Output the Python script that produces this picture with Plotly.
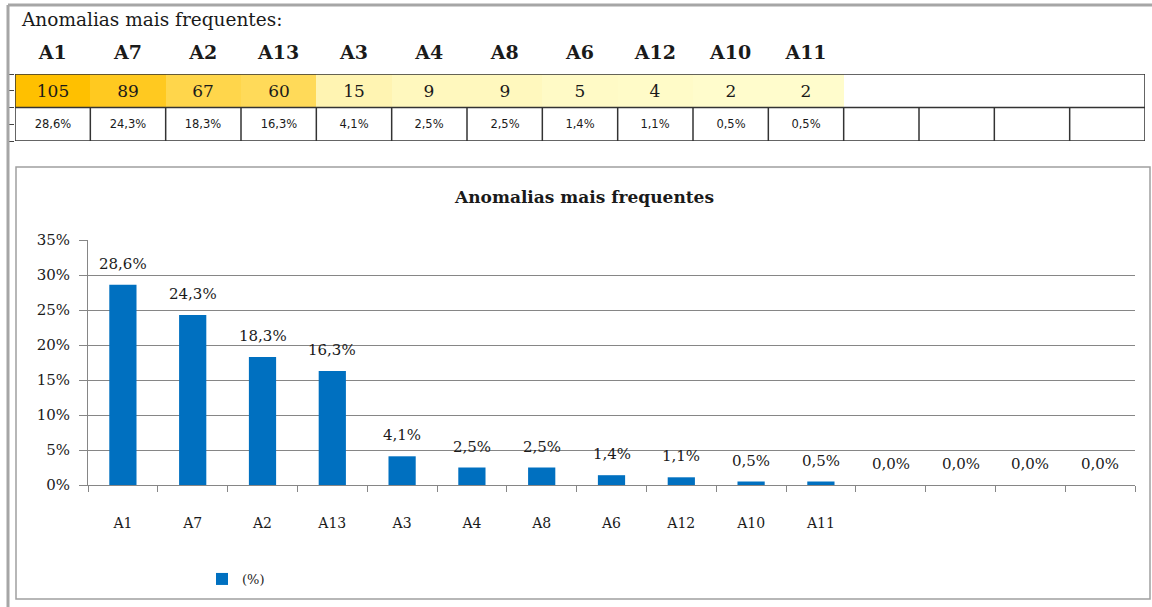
import plotly.graph_objects as go

# ---------------- data ----------------
labels = ["A1", "A7", "A2", "A13", "A3", "A4", "A8", "A6", "A12", "A10", "A11"]
counts = [105, 89, 67, 60, 15, 9, 9, 5, 4, 2, 2]
percents = [28.6, 24.3, 18.3, 16.3, 4.1, 2.5, 2.5, 1.4, 1.1, 0.5, 0.5]
n_empty = 4  # empty columns of the sheet / chart
y_ticks = [0, 5, 10, 15, 20, 25, 30, 35]

top_title = "Anomalias mais frequentes:"
chart_title = "Anomalias mais frequentes"
series_name = "(%)"

# ---------------- helpers ----------------
W, H = 1152, 607
def px(x):
    return x / W
def py(y):
    return 1 - y / H

ids = labels + ["_e%d" % i for i in range(1, n_empty + 1)]
tick_text = labels + [""] * n_empty
bar_vals = [p / 100 for p in percents] + [0.0] * n_empty
bar_pct = percents + [0.0] * n_empty

SERIF = "DejaVu Serif"
TXT = "#1a1a1a"
GRID = "#868686"

fig = go.Figure()

# ---------------- chart ----------------
fig.add_trace(go.Bar(
    x=ids, y=bar_vals, name=series_name,
    marker=dict(color="#0070C0", line=dict(width=0)),
    xaxis="x", yaxis="y", hoverinfo="skip", showlegend=True,
))

for cid, v in zip(ids, bar_pct):
    fig.add_annotation(
        x=cid, y=v / 100, xref="x", yref="y",
        text=("%.1f%%" % v).replace(".", ","),
        showarrow=False, yanchor="bottom", yshift=10,
        font=dict(family=SERIF, size=15, color=TXT),
    )

# ---------------- table (sheet) ----------------
n = len(ids)
row_counts_z = [counts + [None] * n_empty]
row_counts_t = [[str(c) for c in counts] + [""] * n_empty]
row_pct_z = [[0] * n]
row_pct_t = [[("%.1f%%" % p).replace(".", ",") for p in percents] + [""] * n_empty]

fig.add_trace(go.Heatmap(
    x=ids, y=[0], z=row_counts_z, text=row_counts_t, texttemplate="%{text}",
    colorscale=[[0, "#FFFCCC"], [1, "#FFC000"]], zmin=min(counts), zmax=max(counts),
    showscale=False, xaxis="x2", yaxis="y2", hoverinfo="skip",
    textfont=dict(family=SERIF, size=17, color=TXT),
))
fig.add_trace(go.Heatmap(
    x=ids, y=[1], z=row_pct_z, text=row_pct_t, texttemplate="%{text}",
    colorscale=[[0, "#FFFFFF"], [1, "#FFFFFF"]],
    showscale=False, xaxis="x2", yaxis="y2", hoverinfo="skip",
    textfont=dict(family="DejaVu Sans", size=11.5, color=TXT),
))

shapes = []
# chart box
shapes.append(dict(type="rect", xref="paper", yref="paper", x0=px(16), x1=px(1150), y0=py(599), y1=py(167),
                   line=dict(color="#A0A0A0", width=1.5), fillcolor="rgba(0,0,0,0)", layer="below"))
# table borders
BC = "#333333"
shapes.append(dict(type="rect", xref="x2", yref="y2", x0=-0.5, x1=n - 0.5, y0=-0.5, y1=1.5,
                   line=dict(color=BC, width=1.5)))
shapes.append(dict(type="line", xref="x2", yref="y2", x0=-0.5, x1=n - 0.5, y0=0.5, y1=0.5,
                   line=dict(color=BC, width=1.5)))
for i in range(n - 1):
    shapes.append(dict(type="line", xref="x2", yref="y2", x0=i + 0.5, x1=i + 0.5, y0=0.5, y1=1.5,
                       line=dict(color=BC, width=1.5)))
# outer gray frame of the sheet
shapes.append(dict(type="line", xref="paper", yref="paper", x0=px(8), x1=1, y0=py(5), y1=py(5),
                   line=dict(color="#A6A6A6", width=3)))
shapes.append(dict(type="line", xref="paper", yref="paper", x0=px(8), x1=px(8), y0=py(5), y1=0,
                   line=dict(color="#A6A6A6", width=3)))

fig.add_annotation(x=px(19), y=py(19), xref="paper", yref="paper", text=top_title,
                   showarrow=False, xanchor="left", yanchor="middle",
                   font=dict(family=SERIF, size=18.5, color=TXT))
fig.add_annotation(x=px(584), y=py(197), xref="paper", yref="paper", text="<b>%s</b>" % chart_title,
                   showarrow=False, xanchor="center", yanchor="middle",
                   font=dict(family=SERIF, size=17, color=TXT))

fig.update_layout(
    template="none",
    width=W, height=H, autosize=False,
    margin=dict(l=0, r=0, t=0, b=0, pad=0),
    paper_bgcolor="white", plot_bgcolor="rgba(0,0,0,0)",
    bargap=0.61,
    shapes=shapes,
    showlegend=True,
    legend=dict(x=px(202), y=py(579), xanchor="left", yanchor="middle", orientation="h",
                font=dict(family=SERIF, size=13, color=TXT), bgcolor="rgba(0,0,0,0)"),
    xaxis=dict(domain=[px(88), px(1135)], type="category", categoryorder="array", categoryarray=ids,
               tickvals=ids, ticktext=tick_text, tickson="boundaries", automargin=False,
               showline=True, linecolor=GRID, linewidth=1, ticks="outside", ticklen=6, tickcolor=GRID,
               showgrid=False, zeroline=False, ticklabelstandoff=25,
               tickfont=dict(family=SERIF, size=14, color=TXT), fixedrange=True),
    yaxis=dict(domain=[py(485), py(240)], range=[0, 0.35], automargin=False,
               tickvals=[t / 100 for t in y_ticks], ticktext=["%d%%" % t for t in y_ticks],
               showline=True, linecolor=GRID, linewidth=1, ticks="outside", ticklen=8, tickcolor=GRID,
               showgrid=True, gridcolor=GRID, gridwidth=1, zeroline=False, ticklabelstandoff=6,
               tickfont=dict(family=SERIF, size=15, color=TXT), fixedrange=True),
    xaxis2=dict(domain=[px(15), px(1145)], type="category", categoryorder="array", categoryarray=ids,
                range=[-0.5, n - 0.5], side="top", anchor="y2", automargin=False,
                tickvals=ids, ticktext=tick_text, ticks="", showgrid=False, showline=False,
                zeroline=False, ticklabelstandoff=10,
                tickfont=dict(family=SERIF, size=19, color=TXT, weight="bold"), fixedrange=True),
    yaxis2=dict(domain=[py(141), py(74)], range=[1.5, -0.5], anchor="x2", automargin=False,
                showticklabels=False, showgrid=False, zeroline=False, showline=False, fixedrange=True),
)

fig.write_html("out.html", config={"displayModeBar": False},
               post_script="document.body.style.margin='0';document.body.style.overflow='hidden';")
